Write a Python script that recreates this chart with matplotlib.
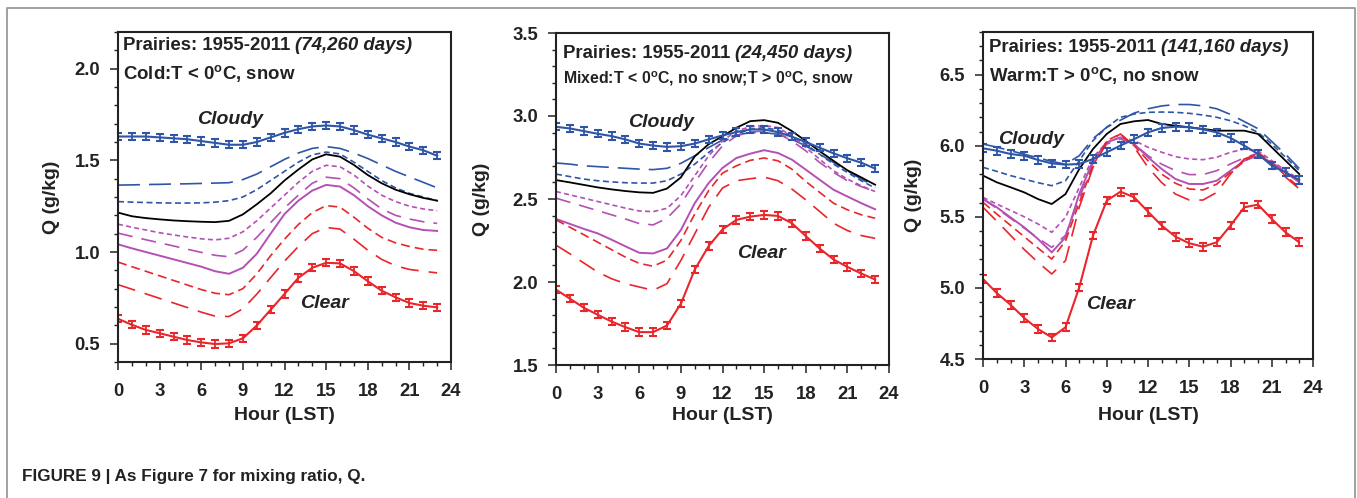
import matplotlib
matplotlib.use("Agg")
import matplotlib.pyplot as plt
from matplotlib.ticker import MultipleLocator, FormatStrFormatter
from matplotlib.lines import Line2D

plt.rcParams['font.family'] = ['Liberation Sans', 'DejaVu Sans']
plt.rcParams['mathtext.fontset'] = 'custom'
plt.rcParams['mathtext.rm'] = 'Liberation Sans:bold'
plt.rcParams['mathtext.bf'] = 'Liberation Sans:bold'
plt.rcParams['mathtext.it'] = 'Liberation Sans:italic:bold'
plt.rcParams['lines.scale_dashes'] = False

hours = list(range(24))

# ---------------- Panel 1: Cold ----------------
p1_cloudy = [1.63, 1.63, 1.63, 1.625, 1.62, 1.615, 1.605, 1.595, 1.585, 1.585, 1.60, 1.625,
             1.65, 1.67, 1.685, 1.69, 1.685, 1.665, 1.64, 1.62, 1.60, 1.575, 1.555, 1.525]
p1_blue_long = [1.365, 1.366, 1.368, 1.369, 1.371, 1.372, 1.374, 1.376, 1.378, 1.395, 1.425, 1.465,
                1.505, 1.54, 1.565, 1.575, 1.565, 1.54, 1.51, 1.475, 1.44, 1.41, 1.38, 1.35]
p1_blue_short = [1.275, 1.272, 1.27, 1.268, 1.267, 1.267, 1.268, 1.272, 1.28, 1.30, 1.34, 1.39,
                 1.44, 1.49, 1.53, 1.545, 1.535, 1.49, 1.44, 1.39, 1.35, 1.32, 1.30, 1.28]
p1_black = [1.215, 1.195, 1.185, 1.178, 1.172, 1.168, 1.165, 1.163, 1.17, 1.205, 1.26, 1.32,
            1.39, 1.45, 1.505, 1.533, 1.52, 1.475, 1.42, 1.375, 1.34, 1.315, 1.295, 1.28]
p1_mag_short = [1.152, 1.135, 1.12, 1.105, 1.093, 1.082, 1.072, 1.066, 1.075, 1.11, 1.17, 1.24,
                1.31, 1.38, 1.44, 1.473, 1.465, 1.42, 1.36, 1.31, 1.275, 1.25, 1.235, 1.225]
p1_mag_long = [1.103, 1.085, 1.067, 1.05, 1.033, 1.015, 0.998, 0.982, 0.974, 1.01, 1.08, 1.16,
               1.24, 1.31, 1.375, 1.408, 1.40, 1.35, 1.29, 1.235, 1.20, 1.18, 1.165, 1.156]
p1_mag_solid = [1.042, 1.02, 1.0, 0.98, 0.96, 0.94, 0.92, 0.895, 0.881, 0.914, 0.99, 1.10,
                1.207, 1.28, 1.335, 1.366, 1.357, 1.31, 1.25, 1.20, 1.16, 1.135, 1.12, 1.115]
p1_red_short = [0.945, 0.92, 0.895, 0.87, 0.845, 0.82, 0.795, 0.775, 0.767, 0.80, 0.88, 0.98,
                1.07, 1.15, 1.215, 1.253, 1.245, 1.19, 1.13, 1.08, 1.05, 1.03, 1.015, 1.009]
p1_red_long = [0.822, 0.797, 0.772, 0.747, 0.722, 0.697, 0.672, 0.65, 0.648, 0.69, 0.77, 0.86,
               0.95, 1.03, 1.10, 1.134, 1.125, 1.07, 1.01, 0.96, 0.925, 0.905, 0.895, 0.886]
p1_clear = [0.636, 0.603, 0.575, 0.557, 0.538, 0.52, 0.507, 0.498, 0.502, 0.529, 0.599, 0.685,
            0.771, 0.859, 0.914, 0.941, 0.938, 0.896, 0.841, 0.789, 0.753, 0.722, 0.707, 0.698]
p1_err = 0.02

# ---------------- Panel 2: Mixed ----------------
p2_cloudy = [2.935, 2.925, 2.909, 2.893, 2.879, 2.859, 2.834, 2.822, 2.814, 2.818, 2.834, 2.859,
             2.883, 2.903, 2.919, 2.919, 2.903, 2.875, 2.843, 2.809, 2.775, 2.745, 2.719, 2.683]
p2_blue_long = [2.717, 2.71, 2.70, 2.695, 2.69, 2.685, 2.68, 2.677, 2.685, 2.715, 2.76, 2.81,
                2.855, 2.885, 2.90, 2.90, 2.89, 2.86, 2.82, 2.77, 2.72, 2.67, 2.62, 2.576]
p2_blue_short = [2.65, 2.635, 2.62, 2.61, 2.603, 2.598, 2.596, 2.596, 2.61, 2.65, 2.71, 2.78,
                 2.84, 2.89, 2.92, 2.93, 2.915, 2.88, 2.83, 2.77, 2.71, 2.66, 2.61, 2.566]
p2_black = [2.614, 2.60, 2.585, 2.57, 2.558, 2.548, 2.54, 2.537, 2.563, 2.63, 2.757, 2.83,
            2.878, 2.929, 2.969, 2.975, 2.959, 2.909, 2.85, 2.788, 2.73, 2.673, 2.63, 2.586]
p2_mag_short = [2.545, 2.525, 2.505, 2.485, 2.465, 2.445, 2.428, 2.424, 2.444, 2.52, 2.64, 2.76,
                2.85, 2.91, 2.935, 2.943, 2.93, 2.88, 2.81, 2.74, 2.67, 2.62, 2.58, 2.545]
p2_mag_long = [2.505, 2.48, 2.455, 2.43, 2.405, 2.38, 2.352, 2.344, 2.384, 2.47, 2.60, 2.72,
               2.82, 2.88, 2.905, 2.909, 2.895, 2.85, 2.79, 2.72, 2.66, 2.61, 2.575, 2.545]
p2_mag_solid = [2.38, 2.35, 2.32, 2.293, 2.255, 2.215, 2.176, 2.172, 2.202, 2.313, 2.475, 2.596,
                2.687, 2.747, 2.773, 2.794, 2.777, 2.737, 2.677, 2.616, 2.556, 2.515, 2.475, 2.438]
p2_red_short = [2.374, 2.33, 2.285, 2.24, 2.195, 2.15, 2.112, 2.095, 2.132, 2.25, 2.41, 2.55,
                2.656, 2.70, 2.733, 2.747, 2.73, 2.68, 2.606, 2.54, 2.475, 2.435, 2.405, 2.384]
p2_red_long = [2.222, 2.17, 2.115, 2.06, 2.02, 1.99, 1.97, 1.95, 1.99, 2.13, 2.29, 2.45,
               2.566, 2.61, 2.622, 2.632, 2.61, 2.56, 2.495, 2.425, 2.354, 2.31, 2.28, 2.263]
p2_clear = [1.954, 1.90, 1.845, 1.803, 1.762, 1.728, 1.698, 1.698, 1.738, 1.869, 2.075, 2.216,
            2.317, 2.374, 2.394, 2.404, 2.398, 2.354, 2.277, 2.202, 2.136, 2.091, 2.051, 2.015]
p2_err = 0.022

# ---------------- Panel 3: Warm ----------------
p3_cloudy = [5.982, 5.965, 5.942, 5.93, 5.90, 5.876, 5.867, 5.872, 5.907, 5.954, 6.001, 6.047,
             6.094, 6.125, 6.134, 6.13, 6.115, 6.094, 6.055, 6.001, 5.942, 5.86, 5.813, 5.759]
p3_blue_long = [6.012, 5.99, 5.965, 5.94, 5.915, 5.89, 5.87, 5.93, 6.05, 6.13, 6.18, 6.23,
                6.26, 6.28, 6.29, 6.29, 6.28, 6.26, 6.22, 6.17, 6.12, 6.03, 5.94, 5.84]
p3_blue_short = [5.848, 5.82, 5.79, 5.765, 5.74, 5.719, 5.754, 5.895, 6.036, 6.13, 6.20, 6.223,
                 6.235, 6.237, 6.235, 6.228, 6.216, 6.20, 6.176, 6.141, 6.094, 6.012, 5.919, 5.825]
p3_black = [5.79, 5.743, 5.708, 5.672, 5.625, 5.59, 5.66, 5.836, 5.977, 6.083, 6.153, 6.172,
            6.181, 6.153, 6.141, 6.13, 6.118, 6.106, 6.106, 6.106, 6.083, 5.989, 5.895, 5.801]
p3_mag_short = [5.637, 5.59, 5.545, 5.50, 5.45, 5.391, 5.496, 5.707, 5.919, 6.024, 6.059, 6.036,
                5.989, 5.954, 5.923, 5.907, 5.902, 5.919, 5.954, 5.977, 5.965, 5.895, 5.825, 5.766]
p3_mag_long = [5.625, 5.56, 5.49, 5.42, 5.35, 5.285, 5.37, 5.63, 5.88, 6.012, 6.047, 6.012,
               5.93, 5.87, 5.825, 5.797, 5.797, 5.825, 5.872, 5.915, 5.947, 5.88, 5.81, 5.754]
p3_mag_solid = [5.625, 5.567, 5.496, 5.426, 5.344, 5.25, 5.356, 5.661, 5.895, 6.024, 6.059, 6.012,
                5.919, 5.836, 5.766, 5.731, 5.731, 5.754, 5.825, 5.895, 5.93, 5.883, 5.813, 5.743]
p3_red_short = [5.602, 5.52, 5.44, 5.36, 5.28, 5.203, 5.33, 5.60, 5.86, 6.036, 6.083, 6.0,
                5.895, 5.80, 5.736, 5.696, 5.689, 5.73, 5.813, 5.89, 5.954, 5.88, 5.79, 5.707]
p3_red_long = [5.567, 5.47, 5.37, 5.27, 5.18, 5.098, 5.192, 5.567, 5.848, 6.024, 6.083, 5.989,
               5.848, 5.74, 5.66, 5.618, 5.618, 5.672, 5.801, 5.907, 5.942, 5.87, 5.78, 5.696]
p3_clear = [5.063, 4.964, 4.882, 4.788, 4.711, 4.652, 4.723, 5.004, 5.368, 5.614, 5.677, 5.637,
            5.536, 5.438, 5.36, 5.314, 5.29, 5.321, 5.438, 5.567, 5.586, 5.485, 5.391, 5.321]
p3_err = 0.027

title_main = "Prairies: 1955-2011 "
title_days = ["(74,260 days)", "(24,450 days)", "(141,160 days)"]
panel_subtitles = ["Cold:T < 0$^{\\mathrm{o}}$C, snow",
                   "Mixed:T < 0$^{\\mathrm{o}}$C, no snow;T > 0$^{\\mathrm{o}}$C, snow",
                   "Warm:T > 0$^{\\mathrm{o}}$C, no snow"]
ylims = [(0.4, 2.2), (1.5, 3.5), (4.5, 6.8)]
xticks = [0, 3, 6, 9, 12, 15, 18, 21, 24]

BLUE = '#2f56a6'
RED = '#e8262b'
MAG = '#b450b4'
TXT = '#222222'
PX = 0.72  # points per pixel at dpi 100

W, H = 1357, 498
fig = plt.figure(figsize=(W / 100, H / 100), dpi=100)

# axes boxes in pixel coords (left, top, right, bottom)
boxes = [(118, 32, 451, 362), (556, 33, 889, 365), (983, 32, 1313, 359)]

panels = [
    (p1_cloudy, p1_blue_long, p1_blue_short, p1_black, p1_mag_short, p1_mag_long, p1_mag_solid,
     p1_red_short, p1_red_long, p1_clear, p1_err),
    (p2_cloudy, p2_blue_long, p2_blue_short, p2_black, p2_mag_short, p2_mag_long, p2_mag_solid,
     p2_red_short, p2_red_long, p2_clear, p2_err),
    (p3_cloudy, p3_blue_long, p3_blue_short, p3_black, p3_mag_short, p3_mag_long, p3_mag_solid,
     p3_red_short, p3_red_long, p3_clear, p3_err),
]

cloudy_pos = [(8.1, 1.725), (7.6, 2.963), (3.5, 6.041)]
clear_pos = [(14.9, 0.72), (14.8, 2.172), (9.25, 4.883)]
title_px = [(123, 45, 73, 13.4), (563, 53, 79, 11.4), (989, 47, 75, 13.4)]
ylabel_x = [52, 481, 914]

for i, (l, t, r, b) in enumerate(boxes):
    ax = fig.add_axes([l / W, 1 - b / H, (r - l) / W, (b - t) / H])
    (cl, bl, bs, bk, ms, ml, msol, rs, rl, clr, err) = panels[i]
    lw = 1.2
    ax.plot(hours, bl, color=BLUE, lw=lw, dashes=(22 * PX, 9 * PX))
    ax.plot(hours, bs, color=BLUE, lw=lw, dashes=(6 * PX, 3.5 * PX))
    ax.plot(hours, bk, color='black', lw=1.3)
    ax.plot(hours, ms, color=MAG, lw=lw, dashes=(5 * PX, 3.3 * PX))
    ax.plot(hours, ml, color=MAG, lw=lw, dashes=(15 * PX, 9 * PX))
    ax.plot(hours, msol, color=MAG, lw=1.4)
    ax.plot(hours, rs, color=RED, lw=lw, dashes=(9 * PX, 5 * PX))
    ax.plot(hours, rl, color=RED, lw=lw, dashes=(18 * PX, 10 * PX))
    ax.errorbar(hours, cl, yerr=err, color=BLUE, lw=1.5, capsize=2.8, capthick=1.5, elinewidth=1.3)
    ax.errorbar(hours, clr, yerr=err, color=RED, lw=1.5, capsize=2.8, capthick=1.5, elinewidth=1.3)

    ax.set_xlim(0, 24)
    ax.set_ylim(*ylims[i])
    ax.set_xticks(xticks)
    ax.xaxis.set_minor_locator(MultipleLocator(1))
    ax.yaxis.set_major_locator(MultipleLocator(0.5))
    ax.yaxis.set_minor_locator(MultipleLocator(0.1))
    ax.yaxis.set_major_formatter(FormatStrFormatter('%.1f'))
    ax.tick_params(which='major', direction='out', length=5.8, width=1.1, labelsize=13.3,
                   color=TXT, labelcolor=TXT)
    ax.tick_params(axis='x', which='major', pad=9)
    ax.tick_params(axis='y', which='major', pad=7)
    ax.tick_params(which='minor', direction='out', length=3.2, width=1.0, color=TXT)
    for lab in ax.get_xticklabels() + ax.get_yticklabels():
        lab.set_fontweight('bold')
    for sp in ax.spines.values():
        sp.set_linewidth(1.5)
        sp.set_color(TXT)

    ax.text(*cloudy_pos[i], "Cloudy", ha='center', va='center', fontsize=14, fontweight='bold',
            fontstyle='italic', color=TXT)
    ax.text(*clear_pos[i], "Clear", ha='center', va='center', fontsize=14, fontweight='bold',
            fontstyle='italic', color=TXT)

    tx, ty1, ty2, fs2 = title_px[i]
    t1 = fig.text(tx / W, 1 - (ty1 + 5) / H, title_main, ha='left', va='baseline',
                  fontsize=13.4, fontweight='bold', color=TXT)
    ax.annotate(title_days[i], xy=(1, 0), xycoords=t1, ha='left', va='bottom',
                fontsize=13.4, fontweight='bold', fontstyle='italic', color=TXT,
                annotation_clip=False)
    fig.text(tx / W, 1 - ty2 / H, panel_subtitles[i], ha='left', va='center', fontsize=fs2,
             fontweight='bold', color=TXT)

    fig.text(ylabel_x[i] / W, 1 - ((t + b) / 2) / H, "Q (g/kg)", rotation=90, ha='center',
             va='center', fontsize=14, fontweight='bold', color=TXT)
    fig.text(((l + r) / 2) / W, 1 - 415 / H, "Hour (LST)", ha='center', va='center',
             fontsize=14, fontweight='bold', color=TXT)

# figure border (open at bottom)
bx = [7 / W, 7 / W, 1355 / W, 1355 / W]
by = [-0.01, 1 - 8 / H, 1 - 8 / H, -0.01]
fig.add_artist(Line2D(bx, by, color='#9a9a9a', lw=1.3, transform=fig.transFigure))

fig.text(22 / W, 1 - 476 / H, "FIGURE 9 | As Figure 7 for mixing ratio, Q.", ha='left',
         va='center', fontsize=12.3, fontweight='bold', color=TXT)

fig.savefig("out.png", dpi=100)
